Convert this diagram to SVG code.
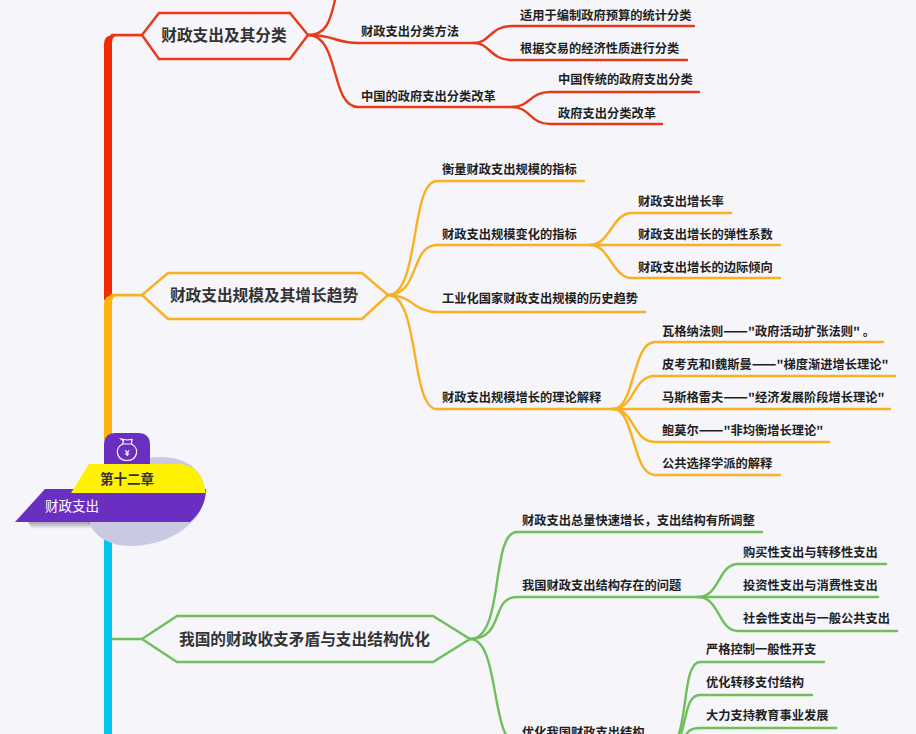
<svg xmlns="http://www.w3.org/2000/svg" width="916" height="734" viewBox="0 0 916 734">
<style>
text{font-family:"Noto Sans CJK SC","Liberation Sans",sans-serif}
.t{font-size:15.7px;font-weight:700;fill:#333;text-anchor:middle}
.l{font-size:12.25px;font-weight:700;fill:#1f1f1f}
.d{font-size:14.5px}
.c{fill:none;stroke-width:2.4;stroke-linecap:round}
.hex{fill:#f5f5fa;stroke-width:2.4}
.r{stroke:#e8391a}.o{stroke:#f9b021}.g{stroke:#6fbf5a}
</style>
<defs>
<linearGradient id="shade" x1="0" y1="0" x2="0" y2="1"><stop offset="0" stop-color="#55556a" stop-opacity=".5"/><stop offset="1" stop-color="#55556a" stop-opacity="0"/></linearGradient>
</defs>
<rect width="916" height="734" fill="#f5f5fa"/>
<g id="connectors">
<!-- main trunk, one colour per section -->
<path d="M104 300V44Q104 35 114 35H142V36.200H116Q112 36.200 112 44V300Z" fill="#f22a00"/>
<path d="M104 440V304Q104 295 114 295H142V296.200H116Q112 296.200 112 304V440Z" fill="#fdb210"/>
<rect x="104" y="530" width="8" height="204" fill="#03c4ee"/>
<path class="c r" d="M112 35H142"/>
<path class="c o" d="M112 295H142"/>
<path class="c g" d="M112 639H142"/>
<g class="c r">
<path d="M308 35C326 35 330 22 335 0"/>
<path d="M308 35C335 35 335 43 358 43H474C490 43 490 26 512 26H694"/>
<path d="M474 43C490 43 490 60 512 60H687"/>
<path d="M308 35C340 35 330 107 358 107H512C530 107 530 92 550 92H699"/>
<path d="M512 107C530 107 530 124 550 124H662"/>
</g>
<g class="c o">
<path d="M388 295C420 295 410 181 437 181H584"/>
<path d="M388 295C420 295 410 245 437 245H590C610 245 612 213 632 213H731"/>
<path d="M590 245H780"/>
<path d="M590 245C610 245 612 278 632 278H780"/>
<path d="M388 295C412 295 414 312 437 312H645"/>
<path d="M388 295C420 295 410 409 437 409H613C635 409 632 342 655 342H883"/>
<path d="M613 409C635 409 632 376 655 376H895"/>
<path d="M613 409H890"/>
<path d="M613 409C635 409 632 442 655 442H829"/>
<path d="M613 409C635 409 632 475 655 475H780"/>
</g>
<g class="c g">
<path d="M470 639C505 639 490 532 517 532H762"/>
<path d="M470 639C505 639 490 597 517 597H698C720 597 718 564 738 564H886"/>
<path d="M698 597H878"/>
<path d="M698 597C720 597 718 631 738 631H897"/>
<path d="M470 639C500 639 490 740 517 745H675"/>
<path d="M668 745C690 745 680 662 700 662H824"/>
<path d="M668 745C690 745 680 695 700 695H812"/>
<path d="M668 745C690 745 680 728 700 728H836"/>
</g>
</g>
<g id="root">
<path d="M88 522C96 490 120 457 160 457C190 457 206 474 205 494C204 522 170 546 130 546C108 546 94 535 88 522Z" fill="#c9c9e2"/>
<path d="M104 445Q104 433 116 433H138Q150 433 150 445V470H104Z" fill="#6a2fc0"/>
<!-- money bag icon -->
<g fill="none" stroke="#fff" stroke-width="1.200">
<path d="M122.500 444C114 448 116.500 460.500 127 460.500C137.500 460.500 140 448 131.500 444Z"/>
<path d="M122.500 444L123.500 441L121 439L127 440L132 439.500L131.500 444"/>
</g>
<text x="127" y="456" font-size="8" font-weight="700" fill="#fff" text-anchor="middle">¥</text>
<path d="M28 522H90V529H32Z" fill="url(#shade)"/>
<path d="M45 489H206C206 503 199 515 190 522H15Z" fill="#6a2fc0"/>
<path d="M71 493L89 464H178C194 464 204 476 205.500 493Z" fill="#fff200"/>
<text x="127" y="484" font-size="13.500" font-weight="700" fill="#333" text-anchor="middle">第十二章</text>
<text x="72" y="511" font-size="13.500" fill="#fff" text-anchor="middle">财政支出</text>
</g>
<g id="n1"><path class="hex r" d="M142 35L159 13H290L308 35L290 59H159Z"/><text class="t" x="224" y="40.500">财政支出及其分类</text></g>
<g id="n2"><path class="hex o" d="M142 295L168 273H362L388 295L362 319H168Z"/><text class="t" x="264" y="301">财政支出规模及其增长趋势</text></g>
<g id="n3"><path class="hex g" d="M142 639L177 616H433L470 639L433 662H177Z"/><text class="t" x="304.500" y="644.500">我国的财政收支矛盾与支出结构优化</text></g>
<g id="labels">
<text class="l" x="361" y="36">财政支出分类方法</text>
<text class="l" x="520" y="20">适用于编制政府预算的统计分类</text>
<text class="l" x="520" y="53">根据交易的经济性质进行分类</text>
<text class="l" x="361" y="101">中国的政府支出分类改革</text>
<text class="l" x="558" y="84">中国传统的政府支出分类</text>
<text class="l" x="558" y="118">政府支出分类改革</text>
<text class="l" x="442" y="174">衡量财政支出规模的指标</text>
<text class="l" x="442" y="239">财政支出规模变化的指标</text>
<text class="l" x="638" y="206">财政支出增长率</text>
<text class="l" x="638" y="239">财政支出增长的弹性系数</text>
<text class="l" x="638" y="272">财政支出增长的边际倾向</text>
<text class="l" x="442" y="303">工业化国家财政支出规模的历史趋势</text>
<text class="l" x="442" y="402">财政支出规模增长的理论解释</text>
<text class="l" x="662" y="336">瓦格纳法则<tspan class="d">——</tspan>"政府活动扩张法则" 。</text>
<text class="l" x="662" y="369">皮考克和I魏斯曼<tspan class="d">——</tspan>"梯度渐进增长理论"</text>
<text class="l" x="662" y="402">马斯格雷夫<tspan class="d">——</tspan>"经济发展阶段增长理论"</text>
<text class="l" x="662" y="435">鲍莫尔<tspan class="d">——</tspan>"非均衡增长理论"</text>
<text class="l" x="662" y="468">公共选择学派的解释</text>
<text class="l" x="522" y="525">财政支出总量快速增长，支出结构有所调整</text>
<text class="l" x="522" y="590">我国财政支出结构存在的问题</text>
<text class="l" x="743" y="557">购买性支出与转移性支出</text>
<text class="l" x="743" y="590">投资性支出与消费性支出</text>
<text class="l" x="743" y="623">社会性支出与一般公共支出</text>
<text class="l" x="522" y="737">优化我国财政支出结构</text>
<text class="l" x="706" y="654">严格控制一般性开支</text>
<text class="l" x="706" y="687">优化转移支付结构</text>
<text class="l" x="706" y="720">大力支持教育事业发展</text>
</g>
</svg>
